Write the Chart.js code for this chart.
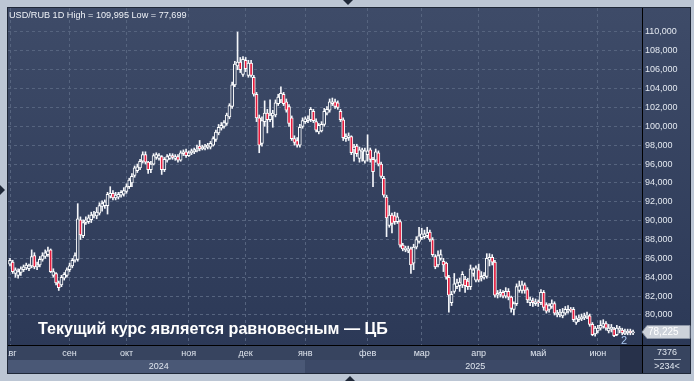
<!DOCTYPE html>
<html>
<head>
<meta charset="utf-8">
<script src="https://cdn.jsdelivr.net/npm/chart.js@4.4.1/dist/chart.umd.min.js"></script>
<style>
  html, body { margin: 0; padding: 0; background: #bcc6d4; overflow: hidden; }
  #wrap { width: 694px; height: 381px; }
</style>
</head>
<body>
<div id="wrap"><canvas id="chart" width="694" height="381"></canvas></div>
<script>
// months shown on the time axis and number of daily candles in each
const monthLabels = ['авг', 'сен', 'окт', 'ноя', 'дек', 'янв', 'фев', 'мар', 'апр', 'май', 'июн'];
const monthDays = [22, 21, 23, 21, 22, 23, 20, 21, 22, 22, 14];
const yearLabels = ['2024', '2025'];
const yTicks = [80, 82, 84, 86, 88, 90, 92, 94, 96, 98, 100, 102, 104, 106, 108, 110];
const overlayText = 'Текущий курс является равновесным — ЦБ';

// USD/RUB daily candles, one row per month
const opens = [
  85.4, 85.6, 84.4, 84.2, 84.5, 84.8, 85.0, 84.9, 85.2, 86.3, 85.1, 85.3, 85.9, 86.2, 86.4, 86.9, 84.2, 84.4, 83.4, 83.2, 83.9, 84.2,
  84.8, 85.2, 85.8, 85.9, 90.1, 88.4, 89.8, 89.9, 90.1, 90.5, 90.5, 90.8, 91.5, 91.6, 91.6, 92.6, 92.9, 92.4, 92.5, 92.7, 92.8,
  93.1, 93.6, 94.0, 94.8, 95.3, 95.6, 96.3, 97.0, 96.2, 95.4, 96.0, 96.7, 96.6, 96.8, 95.4, 96.4, 96.6, 96.9, 96.6, 96.8, 96.4, 97.1, 97.3,
  96.9, 97.2, 97.3, 97.4, 97.9, 97.6, 97.7, 97.8, 97.8, 98.0, 98.6, 99.3, 99.8, 100.0, 100.3, 101.0, 102.1, 104.4, 106.4, 106.8, 105.5,
  107.0, 105.4, 106.7, 105.2, 103.4, 100.9, 98.2, 100.5, 101.4, 100.7, 101.1, 101.2, 102.4, 102.8, 103.4, 102.6, 102.1, 100.9, 98.7, 98.5, 98.0, 100.0,
  100.5, 100.6, 100.7, 101.6, 100.5, 99.4, 99.5, 100.2, 101.4, 101.7, 102.4, 102.6, 102.5, 101.6, 100.7, 98.7, 98.8, 98.9, 97.5, 97.9, 96.6, 97.3, 96.3,
  97.0, 97.5, 96.5, 96.4, 97.2, 96.0, 94.5, 92.5, 89.5, 90.6, 90.5, 89.9, 89.9, 87.4, 86.9, 86.8, 87.0, 85.5, 87.2, 87.8,
  88.2, 88.3, 88.4, 88.8, 88.0, 86.2, 85.3, 86.0, 85.7, 85.5, 84.0, 81.3, 82.5, 83.0, 83.1, 83.2, 83.8, 83.6, 83.0, 84.4, 83.7,
  84.8, 83.9, 84.0, 84.1, 85.8, 86.1, 85.6, 82.1, 82.2, 82.4, 82.0, 82.5, 81.9, 80.6, 81.2, 82.6, 82.6, 83.2, 82.7, 81.3, 81.5, 81.2,
  81.4, 81.3, 82.4, 81.1, 80.6, 80.9, 81.2, 80.0, 80.1, 79.9, 80.2, 80.4, 80.6, 80.6, 79.2, 79.5, 79.6, 79.7, 79.8, 79.9, 79.0, 78.0,
  78.3, 78.6, 78.8, 79.1, 78.3, 78.5, 78.5, 77.9, 78.4, 78.4, 78.0, 78.1, 78.3, 78.1
];
const highs = [
  86.0, 85.8, 85.0, 84.9, 85.1, 85.3, 85.5, 85.4, 86.9, 86.6, 85.6, 86.2, 86.6, 86.9, 87.2, 87.0, 84.9, 84.5, 83.6, 84.2, 84.5, 85.0,
  85.5, 86.0, 86.6, 91.8, 90.4, 90.1, 90.4, 90.6, 90.9, 91.0, 91.4, 91.9, 92.1, 92.2, 93.0, 93.6, 93.2, 93.0, 93.0, 93.2, 93.5,
  93.9, 94.5, 95.0, 95.8, 96.0, 96.5, 97.3, 97.3, 96.3, 96.3, 97.1, 97.2, 97.1, 96.9, 96.7, 97.0, 97.1, 97.1, 97.0, 97.0, 97.4, 97.5, 97.6,
  97.4, 97.6, 97.7, 98.0, 98.5, 98.0, 98.1, 98.2, 98.4, 98.9, 99.6, 100.2, 100.4, 100.6, 101.4, 102.4, 104.7, 106.9, 109.995, 107.3, 107.4,
  107.3, 107.0, 107.0, 105.4, 103.6, 101.2, 101.0, 102.7, 101.8, 102.8, 101.7, 102.8, 103.4, 104.2, 103.6, 102.9, 102.3, 101.1, 99.0, 98.8, 100.2, 100.9,
  101.0, 101.1, 102.0, 101.8, 100.8, 100.3, 100.5, 101.9, 102.1, 102.9, 103.0, 102.9, 102.7, 101.8, 100.9, 99.2, 99.3, 99.0, 98.1, 98.1, 97.8, 97.7, 97.7,
  99.1, 97.7, 96.7, 97.6, 97.4, 96.2, 94.7, 92.7, 91.6, 90.8, 90.9, 90.8, 90.1, 87.6, 87.3, 87.3, 87.2, 87.5, 88.3, 89.3,
  89.2, 89.0, 89.3, 89.0, 88.2, 86.4, 86.8, 86.9, 86.0, 85.6, 84.2, 82.5, 84.4, 83.8, 83.9, 84.6, 84.1, 83.9, 85.3, 85.0, 85.2,
  85.4, 84.6, 84.5, 86.5, 86.5, 86.4, 85.8, 82.6, 82.7, 82.6, 82.9, 82.8, 82.0, 81.4, 83.3, 83.6, 83.6, 83.4, 82.9, 81.9, 81.8, 81.7,
  81.6, 82.7, 82.6, 81.3, 81.2, 81.6, 81.4, 80.5, 80.6, 80.7, 80.9, 81.0, 80.8, 80.8, 79.9, 80.0, 80.1, 80.2, 80.3, 80.1, 79.2, 78.8,
  78.9, 79.4, 79.5, 79.3, 79.0, 79.0, 78.7, 78.9, 78.8, 78.6, 78.5, 78.5, 78.5, 78.4
];
const lows = [
  85.2, 84.4, 84.0, 83.9, 84.2, 84.6, 84.8, 84.7, 85.0, 84.9, 84.8, 85.1, 85.7, 86.0, 86.2, 84.5, 84.0, 83.2, 82.6, 83.0, 83.7, 84.0,
  84.6, 85.0, 85.6, 85.7, 88.0, 88.2, 89.6, 89.7, 89.8, 90.3, 90.2, 90.6, 91.0, 91.3, 90.7, 92.4, 92.2, 92.2, 92.3, 92.5, 92.6,
  92.9, 93.4, 93.6, 94.6, 95.1, 95.4, 96.1, 96.0, 95.0, 95.1, 95.9, 96.5, 96.4, 94.9, 95.2, 96.2, 96.5, 96.5, 96.4, 96.2, 96.3, 96.9, 96.7,
  96.8, 97.0, 97.1, 97.3, 97.4, 97.5, 97.5, 97.6, 97.6, 97.9, 98.4, 99.1, 99.6, 99.8, 100.1, 100.8, 101.9, 104.2, 106.0, 105.7, 105.3,
  105.8, 105.2, 105.2, 103.2, 100.5, 97.2, 97.9, 100.0, 99.3, 100.5, 99.9, 101.0, 102.2, 102.5, 102.2, 101.5, 100.0, 98.5, 98.0, 97.8, 97.8, 99.8,
  100.3, 100.4, 100.5, 100.4, 99.4, 99.2, 99.4, 100.0, 101.2, 101.5, 102.2, 101.9, 101.8, 100.5, 98.5, 98.4, 98.5, 97.0, 96.3, 96.8, 96.2, 96.3, 96.1,
  96.3, 96.2, 93.6, 96.2, 95.8, 94.5, 92.5, 88.3, 89.3, 88.7, 89.6, 89.7, 87.2, 86.8, 86.7, 86.6, 84.4, 84.8, 87.0, 87.6,
  88.0, 88.1, 88.2, 87.8, 86.2, 84.9, 85.1, 85.8, 84.6, 83.8, 80.3, 81.0, 82.3, 82.8, 82.5, 82.9, 82.4, 82.7, 82.7, 84.1, 83.5,
  83.5, 83.6, 83.8, 83.9, 85.2, 85.3, 81.9, 81.8, 81.9, 81.8, 81.8, 81.6, 80.3, 80.0, 81.0, 82.4, 82.3, 82.3, 81.3, 81.0, 80.9, 81.0,
  80.9, 81.1, 80.5, 80.2, 80.3, 80.7, 80.0, 79.8, 79.8, 79.7, 80.0, 80.2, 80.3, 79.3, 79.0, 79.3, 79.4, 79.5, 79.6, 78.8, 77.8, 77.75,
  78.1, 78.4, 78.6, 78.4, 78.1, 78.2, 77.699, 77.8, 78.1, 77.9, 77.9, 77.9, 77.9, 77.9
];
const closes = [
  85.8, 84.6, 84.8, 84.6, 84.9, 85.1, 85.3, 85.2, 86.2, 85.1, 85.3, 85.9, 86.3, 86.6, 86.8, 84.6, 84.6, 83.4, 82.9, 84.0, 84.3, 84.8,
  85.2, 85.8, 86.3, 90.2, 88.5, 89.8, 90.1, 90.3, 90.6, 90.7, 90.9, 91.6, 91.8, 92.0, 92.8, 92.9, 92.4, 92.7, 92.8, 93.0, 93.2,
  93.6, 94.3, 94.7, 95.6, 95.7, 96.3, 97.0, 96.2, 95.4, 96.0, 96.9, 97.0, 96.9, 95.4, 96.5, 96.8, 96.9, 96.7, 96.8, 96.4, 97.2, 97.3, 96.9,
  97.2, 97.4, 97.5, 97.6, 97.6, 97.8, 97.9, 98.0, 98.2, 98.7, 99.4, 99.9, 100.1, 100.4, 101.2, 102.2, 104.4, 106.6, 106.8, 106.0, 107.1,
  106.1, 106.7, 105.4, 103.4, 100.9, 98.0, 100.6, 101.4, 100.7, 101.2, 101.4, 102.5, 103.1, 103.5, 102.4, 101.7, 100.3, 98.7, 98.3, 98.0, 99.9, 100.6,
  100.8, 100.8, 101.8, 100.6, 99.6, 100.1, 100.2, 101.6, 101.8, 102.6, 102.6, 102.1, 102.0, 100.7, 98.8, 98.9, 99.0, 97.2, 97.8, 97.1, 97.5, 97.5, 97.4,
  97.4, 96.5, 95.2, 97.3, 96.0, 94.7, 92.7, 90.3, 90.6, 89.7, 89.9, 90.4, 87.4, 87.0, 87.1, 87.0, 85.3, 87.2, 88.0, 88.4,
  88.6, 88.6, 88.7, 88.0, 86.4, 85.1, 86.3, 86.4, 85.3, 84.0, 82.1, 82.2, 83.3, 83.4, 83.5, 84.3, 83.1, 83.0, 84.9, 84.8, 85.0,
  83.7, 84.1, 84.2, 86.0, 86.1, 85.6, 82.1, 82.3, 82.4, 82.0, 82.5, 81.9, 80.7, 81.2, 83.0, 83.1, 83.2, 82.6, 81.6, 81.6, 81.3, 81.4,
  81.3, 82.4, 80.8, 80.4, 81.0, 81.2, 80.2, 80.2, 80.3, 80.3, 80.6, 80.6, 80.5, 79.5, 79.6, 79.7, 79.8, 79.9, 80.0, 79.0, 77.9, 78.6,
  78.6, 78.9, 79.1, 78.6, 78.6, 78.7, 77.8, 78.6, 78.6, 78.1, 78.2, 78.3, 78.1, 78.225
];

const fmt = v => v.toFixed(3).replace('.', ',');
let acc = 0;
const monthStarts = monthDays.map(d => { const s = acc; acc += d; return s; });
const idx = opens.map((_, i) => i);
const bodyData = idx.map(i => ({ x: i, y: [opens[i], closes[i]] }));
const wickData = idx.map(i => ({ x: i, y: [lows[i], highs[i]] }));
const bodyColors = idx.map(i => closes[i] >= opens[i] ? '#34425f' : '#e31b3d');
const title = 'USD/RUB 1D High = ' + fmt(Math.max(...highs)) + ' Low = ' + fmt(Math.min(...lows));

function fitFont(ctx, text, weight, target) {
  ctx.font = weight + ' 20px "Liberation Sans", Arial, sans-serif';
  const size = 20 * target / ctx.measureText(text).width;
  ctx.font = weight + ' ' + size.toFixed(2) + 'px "Liberation Sans", Arial, sans-serif';
}

function tri(ctx, pts, color) {
  ctx.fillStyle = color;
  ctx.beginPath();
  ctx.moveTo(pts[0], pts[1]);
  ctx.lineTo(pts[2], pts[3]);
  ctx.lineTo(pts[4], pts[5]);
  ctx.closePath();
  ctx.fill();
}

const decor = {
  id: 'decor',
  beforeDraw(chart) {
    const { ctx, scales: { x } } = chart;
    ctx.save();
    ctx.fillStyle = '#bcc6d4';
    ctx.fillRect(0, 0, 694, 381);
    const g = ctx.createLinearGradient(0, 8, 0, 345);
    g.addColorStop(0, '#3e4b68');
    g.addColorStop(1, '#2c3957');
    ctx.fillStyle = g;
    ctx.fillRect(8, 8, 682, 338);
    // time axis band
    ctx.fillStyle = '#37445f';
    ctx.fillRect(8, 346, 682, 27);
    const xJan = x.getPixelForValue(monthStarts[5]);
    ctx.fillStyle = '#4a5876';
    ctx.fillRect(8, 360, xJan - 8, 13);
    ctx.fillStyle = '#3c4967';
    ctx.fillRect(xJan, 360, 620 - xJan, 13);
    ctx.fillStyle = '#27314a';
    ctx.fillRect(620, 346, 22, 27);
    ctx.restore();
  },
  afterDraw(chart) {
    const { ctx, scales: { x, y } } = chart;
    ctx.save();
    // frame
    ctx.fillStyle = '#bcc6d4';
    ctx.fillRect(0, 0, 8, 381);
    ctx.strokeStyle = '#1f2838';
    ctx.lineWidth = 1;
    ctx.strokeRect(7.5, 7.5, 683, 366);
    ctx.strokeStyle = '#000000';
    ctx.beginPath();
    ctx.moveTo(642.5, 8); ctx.lineTo(642.5, 373);
    ctx.moveTo(8, 345.5); ctx.lineTo(690, 345.5);
    ctx.stroke();
    tri(ctx, [343, 0, 353, 0, 348, 5], '#1f2838');
    tri(ctx, [345, 381, 355, 381, 350, 376], '#1f2838');
    tri(ctx, [0, 185, 0, 195, 5, 190], '#1f2838');

    // title
    ctx.fillStyle = '#eef1f6';
    ctx.textBaseline = 'alphabetic';
    ctx.textAlign = 'left';
    fitFont(ctx, title, 'normal', 178);
    ctx.fillText(title, 9, 18);

    // overlay caption
    ctx.fillStyle = '#ffffff';
    fitFont(ctx, overlayText, 'bold', 350);
    ctx.fillText(overlayText, 38, 334);

    // year labels
    const xJan = x.getPixelForValue(monthStarts[5]);
    ctx.fillStyle = '#dfe5ee';
    ctx.font = '9px "Liberation Sans", Arial, sans-serif';
    ctx.textAlign = 'center';
    ctx.textBaseline = 'middle';
    ctx.fillText(yearLabels[0], (8 + xJan) / 2 + 2, 367);
    ctx.fillText(yearLabels[1], (xJan + 645) / 2, 367);

    // bottom right cell
    ctx.fillText('7376', 667, 353);
    ctx.fillText('>234<', 667, 367);
    ctx.strokeStyle = '#aab4c4';
    ctx.beginPath();
    ctx.moveTo(654, 359.5); ctx.lineTo(681, 359.5);
    ctx.stroke();

    // last price tag
    const last = closes[closes.length - 1];
    const py = Math.round(y.getPixelForValue(last));
    ctx.fillStyle = '#cdd2da';
    ctx.strokeStyle = '#8d96a6';
    ctx.beginPath();
    ctx.moveTo(642, py);
    ctx.lineTo(647, py - 6.5);
    ctx.lineTo(690, py - 6.5);
    ctx.lineTo(690, py + 6.5);
    ctx.lineTo(647, py + 6.5);
    ctx.closePath();
    ctx.fill();
    ctx.stroke();
    ctx.fillStyle = '#ffffff';
    ctx.textAlign = 'left';
    ctx.font = '10px "Liberation Sans", Arial, sans-serif';
    ctx.fillText(fmt(last), 648, py + 0.5);

    // marker label
    ctx.fillStyle = '#a9c6ee';
    ctx.font = '11px "Liberation Sans", Arial, sans-serif';
    ctx.textAlign = 'center';
    ctx.fillText('2', 624, 341);
    ctx.restore();
  }
};

new Chart(document.getElementById('chart'), {
  type: 'bar',
  data: {
    datasets: [
      {
        data: bodyData,
        backgroundColor: bodyColors,
        borderColor: '#ffffff',
        borderWidth: 1,
        borderSkipped: false,
        barThickness: 3,
        grouped: false
      },
      {
        data: wickData,
        backgroundColor: '#f4f6fa',
        borderWidth: 0,
        barThickness: 1,
        grouped: false
      }
    ]
  },
  options: {
    responsive: false,
    animation: false,
    devicePixelRatio: 1,
    layout: { padding: { left: 8, top: 8, right: 4, bottom: 8 } },
    plugins: { legend: { display: false }, tooltip: { enabled: false } },
    scales: {
      x: {
        type: 'linear',
        offset: false,
        min: -0.74,
        max: 233.3,
        afterBuildTicks: s => { s.ticks = monthStarts.map(v => ({ value: v })); },
        afterFit: s => { s.height = 28; s.paddingLeft = 0; s.paddingRight = 0; },
        ticks: {
          autoSkip: false,
          maxRotation: 0,
          padding: 3,
          color: '#dfe5ee',
          font: { family: 'Liberation Sans', size: 9 },
          callback: v => monthLabels[monthStarts.indexOf(v)]
        },
        grid: { color: '#56647f', drawTicks: false, offset: false },
        border: { color: '#000000', width: 1, dash: [3, 3] }
      },
      y: {
        position: 'right',
        beginAtZero: false,
        min: 76.818,
        max: 112.544,
        afterBuildTicks: s => { s.ticks = yTicks.map(v => ({ value: v })); },
        afterFit: s => { s.width = 48; s.paddingTop = 0; s.paddingBottom = 0; },
        ticks: {
          padding: 3,
          color: '#e3e8f0',
          font: { family: 'Liberation Sans', size: 9 },
          callback: v => fmt(v)
        },
        grid: { color: '#56647f', drawTicks: false },
        border: { color: '#000000', width: 1, dash: [3, 3] }
      }
    }
  },
  plugins: [decor]
});
</script>
</body>
</html>
